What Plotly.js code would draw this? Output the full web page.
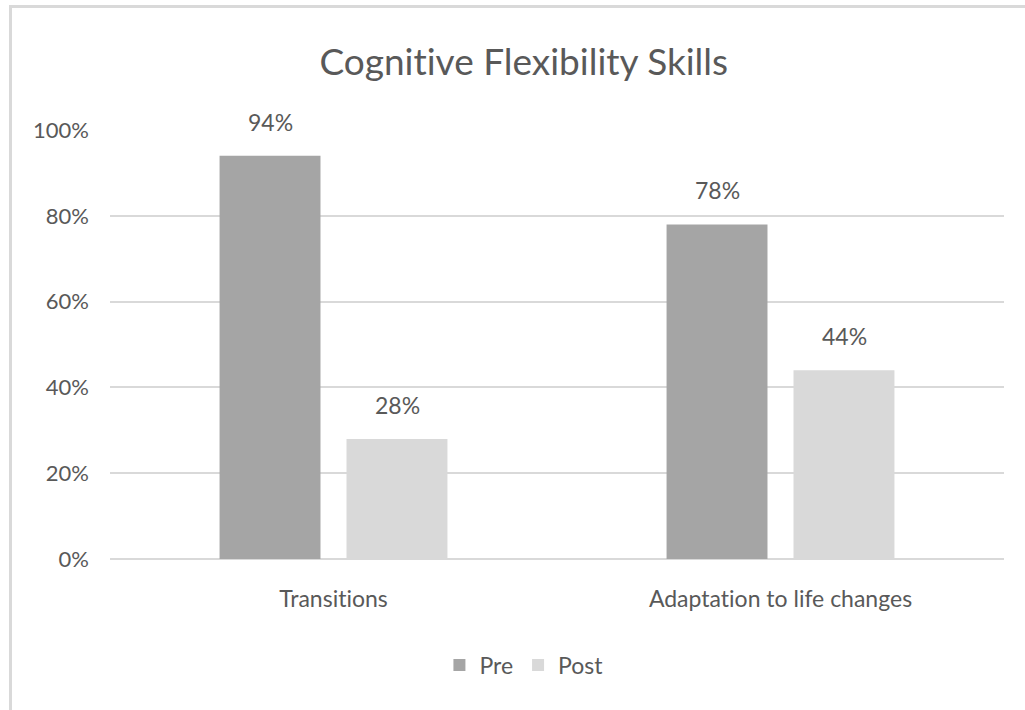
<!DOCTYPE html>
<html>
<head>
<meta charset="utf-8">
<script src="https://cdn.plot.ly/plotly-3.0.1.min.js"></script>
<style>
html,body{margin:0;padding:0;background:#fff;overflow:hidden;}
#frame{position:absolute;left:9px;top:5px;width:1100px;height:800px;border-left:3px solid #d9d9d9;border-top:3px solid #d9d9d9;pointer-events:none;z-index:5;}
#chart{position:absolute;left:0;top:0;width:1025px;height:710px;}
text{font-variant-ligatures:none;font-feature-settings:"liga" 0;}
</style>
</head>
<body>
<div id="chart"></div>
<div id="frame"></div>
<script>
const categories = ["Transitions", "Adaptation to life changes"];
const seriesNames = ["Pre", "Post"];
const preValues = [0.94, 0.78];
const postValues = [0.28, 0.44];
const yTickValues = [0, 0.2, 0.4, 0.6, 0.8, 1.0];
const yTickLabels = ["0%", "20%", "40%", "60%", "80%", "100%"];

const FONT = "Lato, 'Open Sans', sans-serif";
const TXT = "#595959";

const traces = [
  {type: "bar", name: seriesNames[0], x: categories, y: preValues,
   marker: {color: "#a5a5a5"}, hoverinfo: "skip"},
  {type: "bar", name: seriesNames[1], x: categories, y: postValues,
   marker: {color: "#d9d9d9"}, hoverinfo: "skip"}
];

const annotations = [];
[preValues, postValues].forEach((vals, s) => {
  vals.forEach((v, i) => {
    annotations.push({
      x: categories[i], y: v, xref: "x", yref: "y",
      text: Math.round(v * 100) + "%", showarrow: false,
      xanchor: "center", yanchor: "bottom",
      xshift: s === 0 ? -63.5 : 63.5, yshift: 18,
      font: {family: FONT, size: 23, color: TXT}
    });
  });
});

const layout = {
  width: 1025, height: 710,
  margin: {l: 110, r: 21, t: 130, b: 151},
  paper_bgcolor: "#ffffff", plot_bgcolor: "#ffffff",
  title: {text: "Cognitive Flexibility Skills", xref: "container", x: 0.511, xanchor: "center",
          yref: "container", y: 0.912, yanchor: "middle",
          font: {family: FONT, size: 37, color: TXT}},
  barmode: "group", bargap: 0.432, bargroupgap: 0.205,
  xaxis: {showgrid: false, zeroline: false, showline: false, ticks: "",
          tickfont: {family: FONT, size: 23, color: TXT}, ticklabelstandoff: 24,
          fixedrange: true},
  yaxis: {range: [0, 1], tickvals: yTickValues, ticktext: yTickLabels,
          showgrid: true, gridcolor: "#d9d9d9", gridwidth: 2,
          zeroline: true, zerolinecolor: "#d9d9d9", zerolinewidth: 2,
          showline: false, ticks: "", ticklabelstandoff: 20,
          tickfont: {family: FONT, size: 22, color: TXT}, fixedrange: true},
  showlegend: true,
  legend: {orientation: "h", x: 0.463, xanchor: "center", y: -0.247, yanchor: "middle",
           font: {family: FONT, size: 23, color: TXT}, itemwidth: 30, traceorder: "normal"},
  annotations: annotations
};

Plotly.newPlot("chart", traces, layout, {displayModeBar: false, staticPlot: true});
</script>
</body>
</html>
